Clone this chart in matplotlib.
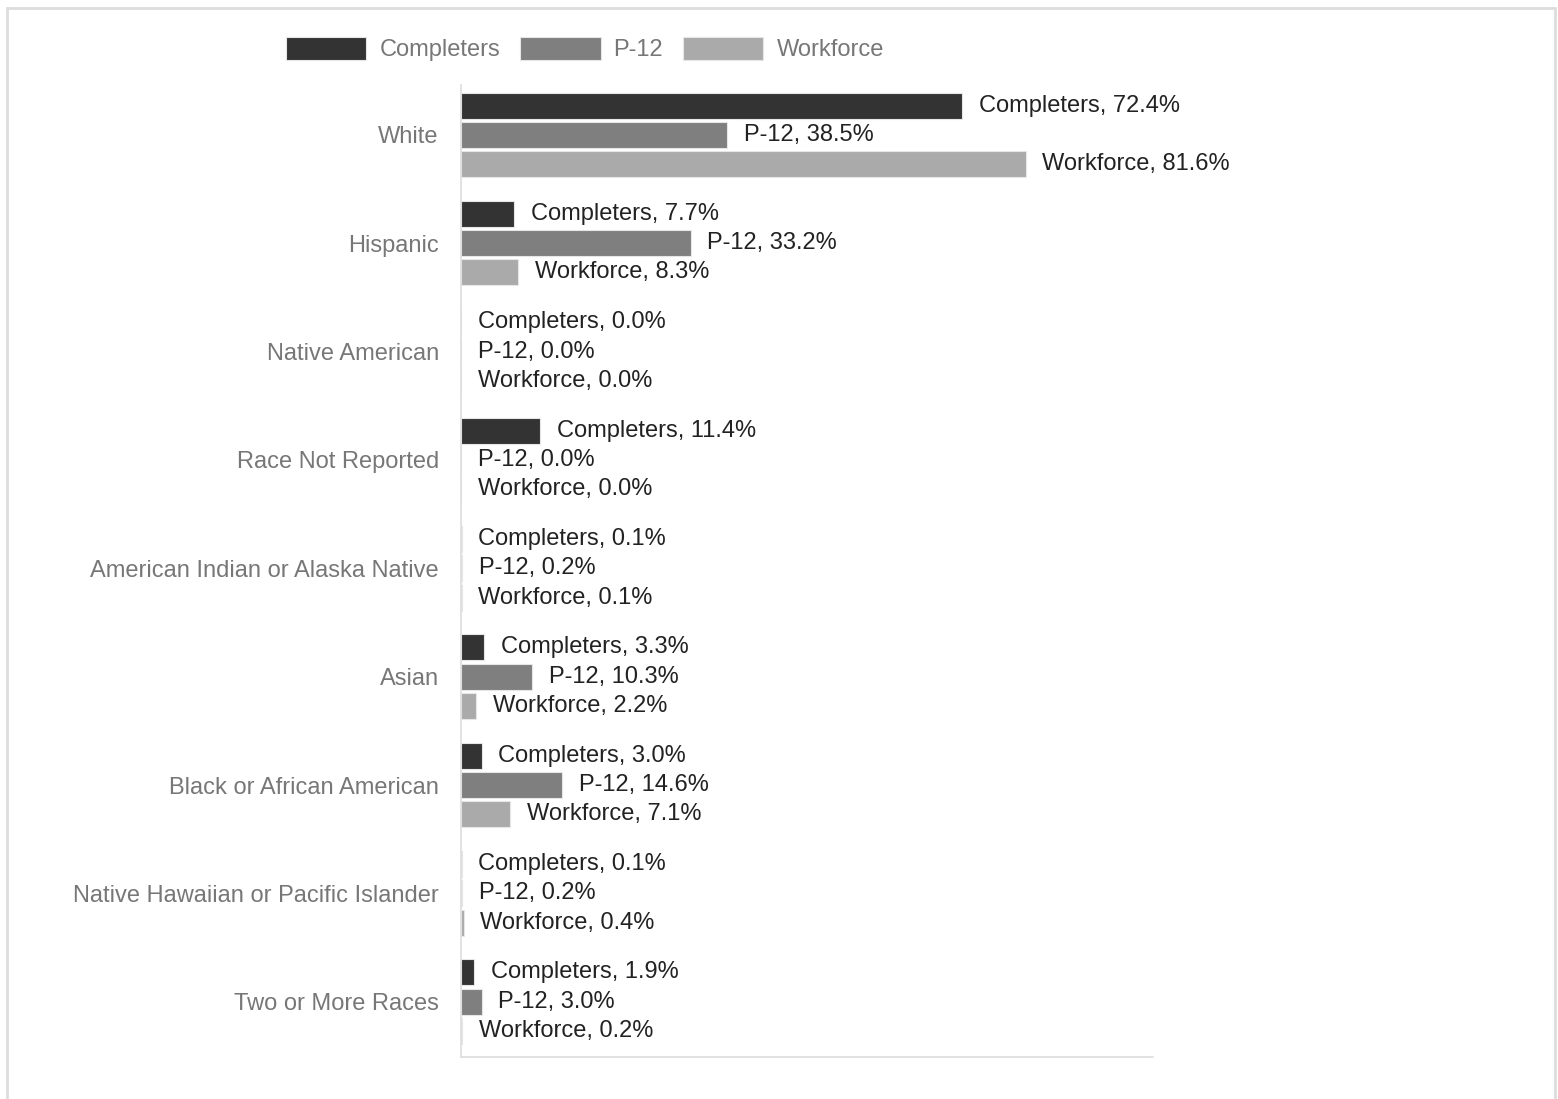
import matplotlib.pyplot as plt
import numpy as np
from matplotlib.patches import Rectangle

plt.rcParams['font.family'] = ['Liberation Sans', 'DejaVu Sans']

categories = ['White', 'Hispanic', 'Native American', 'Race Not Reported',
              'American Indian or Alaska Native', 'Asian', 'Black or African American',
              'Native Hawaiian or Pacific Islander', 'Two or More Races']
series = ['Completers', 'P-12', 'Workforce']
completers = [72.4, 7.7, 0.0, 11.4, 0.1, 3.3, 3.0, 0.1, 1.9]
p12 = [38.5, 33.2, 0.0, 0.0, 0.2, 10.3, 14.6, 0.2, 3.0]
workforce = [81.6, 8.3, 0.0, 0.0, 0.1, 2.2, 7.1, 0.4, 0.2]
colors = ['#333333', '#7f7f7f', '#aaaaaa']

W, H = 1558, 1099
fig = plt.figure(figsize=(W / 100, H / 100), dpi=100)
ax = fig.add_axes([461 / W, 1 - 1057 / H, (1153 - 461) / W, (1057 - 85) / H])

y = np.arange(len(categories))
pitch = 0.27
height = 0.24
for i, (name, vals, c) in enumerate(zip(series, [completers, p12, workforce], colors)):
    pos = y + (i - 1) * pitch
    ax.barh(pos, vals, height=height, color=c, edgecolor='#e6e6e6', linewidth=0.8, label=name)
    for p, v in zip(pos, vals):
        ax.annotate(f'{name}, {v:.1f}%', (v, p), xytext=(12, 0), textcoords='offset points',
                    va='center', ha='left', fontsize=17, color='#222222')

ax.set_xlim(0, 100)
ax.set_ylim(8.51, -0.46)
ax.set_yticks(y)
ax.set_yticklabels(categories, fontsize=17, color='#777777')
ax.tick_params(axis='y', length=0, pad=16)
ax.set_xticks([])
for s in ['top', 'right']:
    ax.spines[s].set_visible(False)
for s in ['left', 'bottom']:
    ax.spines[s].set_color('#dddddd')
    ax.spines[s].set_linewidth(1.2)

leg = fig.legend(loc='center', bbox_to_anchor=(585 / W, 1 - 49 / H), ncol=3, frameon=False,
                 fontsize=17, handlelength=3.4, handleheight=1.15, handletextpad=0.55,
                 columnspacing=0.85)
for t in leg.get_texts():
    t.set_color('#777777')

fig.patches.append(Rectangle((7 / W, -0.01), (1555 - 7) / W, 1.01 - 8 / H, transform=fig.transFigure,
                             fill=False, edgecolor='#dddddd', linewidth=2))

fig.savefig('out.png', dpi=100)
